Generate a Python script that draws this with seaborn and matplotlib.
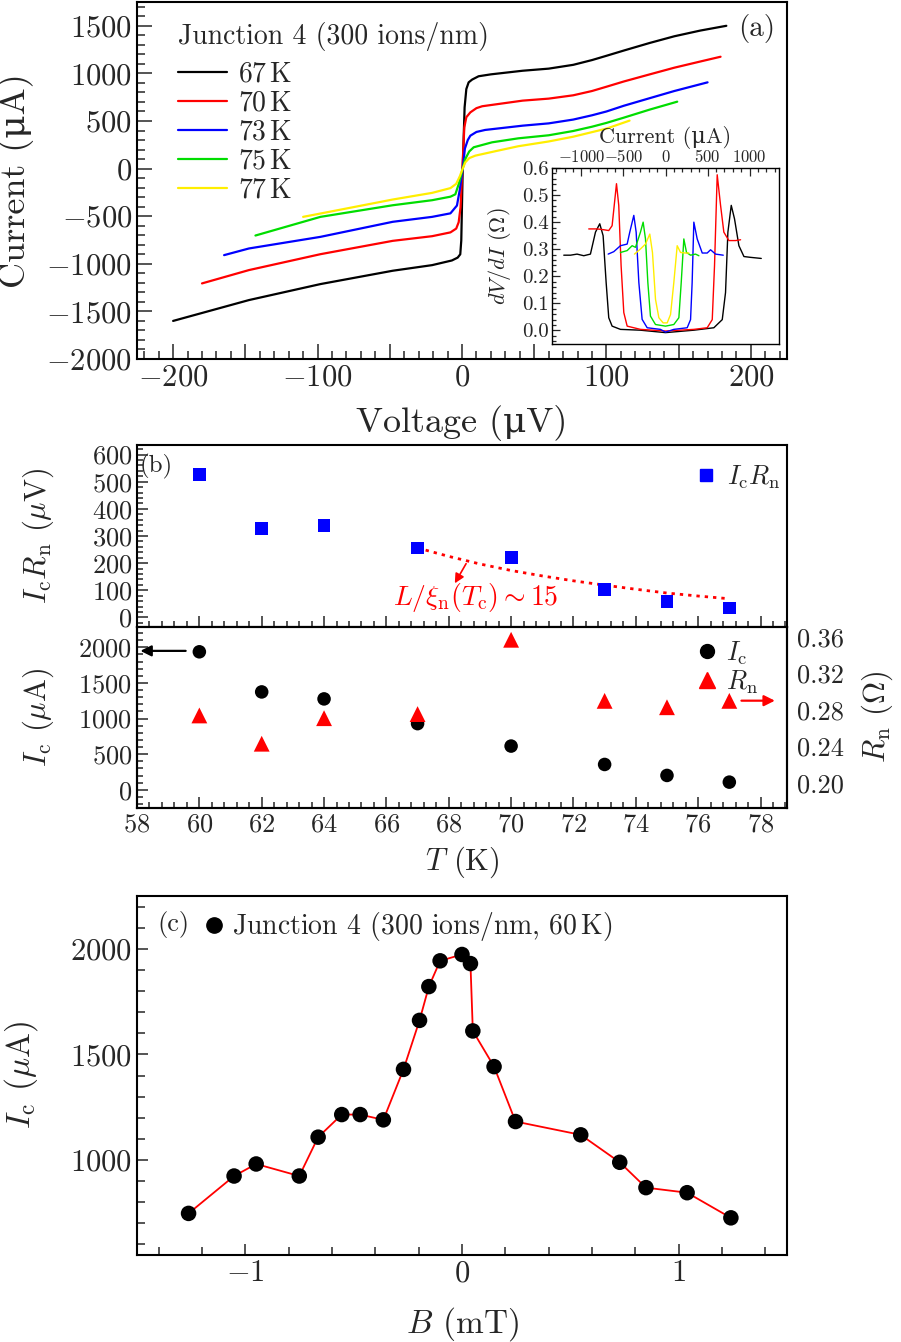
import numpy as np
import pandas as pd
import matplotlib
matplotlib.use("Agg")
import matplotlib.pyplot as plt
import seaborn as sns
from matplotlib.ticker import MultipleLocator, FuncFormatter, FormatStrFormatter
from matplotlib.lines import Line2D

# ---------------- data: panel (a) I-V curves ----------------
temps_iv = ["67 K", "70 K", "73 K", "75 K", "77 K"]
iv_colors = ["black", "red", "blue", "#00dd00", "#ffee00"]

V_67 = [-200, -147.5, -98, -48, -20.7, -7, -3, -1.2, -0.5, 0.5, 1.8, 3.0, 4.6, 7, 11.5, 20, 42, 60, 77, 90, 100, 112, 130, 147, 165, 183]
I_67 = [-1600, -1381, -1213, -1073, -1014, -965, -935, -900, -755, 0, 643, 836, 906, 935, 970, 990, 1028, 1050, 1090, 1140, 1185, 1240, 1320, 1390, 1450, 1500]
V_70 = [-180, -147.5, -98, -48, -20.7, -8, -4, -2.3, -1.0, 1.6, 3, 5.8, 10, 14, 42, 60, 77, 90, 100, 112, 130, 147, 165, 179]
I_70 = [-1206, -1066, -899, -759, -710, -670, -630, -563, -406, 433, 540, 591, 635, 655, 714, 735, 770, 815, 860, 915, 990, 1060, 1125, 1175]
V_73 = [-164.7, -147.5, -98, -48, -20.7, -8, -3.5, -1.5, 0.5, 2, 4, 5.8, 10, 16, 42, 60, 77, 90, 100, 112, 130, 147, 170]
I_73 = [-909, -839, -717, -559, -507, -470, -388, -220, 0, 210, 300, 346, 385, 406, 451, 475, 515, 560, 600, 660, 740, 815, 906]
V_75 = [-143, -98, -48, -20.7, -8, -4.6, -2, 0.5, 2.3, 5, 8.1, 20.8, 39, 60, 77, 90, 100, 112, 130, 149]
I_75 = [-703, -507, -385, -332, -295, -270, -150, 0, 102, 180, 224, 276, 318, 350, 395, 440, 480, 535, 620, 703]
V_77 = [-110, -98, -48, -20.7, -8, -4, -1.5, 0.5, 2.3, 5, 9.2, 25, 39, 60, 77, 100, 116]
I_77 = [-507, -472, -325, -255, -205, -160, -80, 0, 66, 110, 136, 189, 235, 285, 335, 420, 504]

# ---------------- data: inset dV/dI vs current ----------------
dI_67 = [-1210, -1130, -1052, -972, -893, -833, -782, -742, -706, -675, -635, -536, -298, 0, 337, 575, 675, 714, 742, 782, 821, 873, 933, 1012, 1139]
dR_67 = [0.278, 0.278, 0.282, 0.276, 0.282, 0.363, 0.394, 0.350, 0.177, 0.047, 0.016, 0.004, 0.001, -0.008, 0.001, 0.010, 0.040, 0.140, 0.363, 0.462, 0.412, 0.313, 0.273, 0.270, 0.266]
dI_70 = [-913, -813, -734, -675, -635, -583, -556, -528, -496, -456, -298, 0, 337, 496, 556, 583, 615, 655, 694, 754, 833, 893]
dR_70 = [0.375, 0.375, 0.372, 0.369, 0.387, 0.542, 0.462, 0.239, 0.066, 0.016, 0.004, -0.002, 0.004, 0.010, 0.040, 0.239, 0.575, 0.462, 0.363, 0.332, 0.332, 0.335]
dI_73 = [-682, -615, -536, -456, -425, -377, -349, -317, -278, -218, -60, 0, 99, 258, 298, 317, 337, 377, 437, 496, 536, 595, 687]
dR_73 = [0.282, 0.291, 0.313, 0.319, 0.363, 0.425, 0.363, 0.177, 0.041, 0.010, 0.004, -0.006, 0.004, 0.010, 0.040, 0.177, 0.400, 0.338, 0.286, 0.286, 0.298, 0.282, 0.278]
dI_75 = [-536, -456, -397, -357, -298, -266, -238, -210, -179, -119, 0, 99, 159, 187, 218, 250, 298, 357, 397]
dR_75 = [0.288, 0.295, 0.313, 0.307, 0.363, 0.400, 0.338, 0.177, 0.053, 0.022, 0.016, 0.022, 0.047, 0.177, 0.338, 0.288, 0.278, 0.282, 0.276]
dI_77 = [-369, -298, -238, -187, -155, -119, -79, -28, 20, 60, 99, 139, 179, 238, 278]
dR_77 = [0.282, 0.301, 0.319, 0.356, 0.288, 0.115, 0.047, 0.028, 0.028, 0.059, 0.177, 0.313, 0.288, 0.286, 0.286]

# ---------------- data: panel (b) ----------------
T_b = [60, 62, 64, 67, 70, 73, 75, 77]
IcRn = [525, 328, 339, 256, 221, 104, 59, 35]
Ic_T = [1937, 1374, 1276, 929, 614, 356, 202, 108]
Rn_T = [0.274, 0.243, 0.271, 0.2755, 0.357, 0.290, 0.283, 0.290]
fit_T = [67, 68, 69, 70, 71, 72, 73, 74, 75, 76, 77]
fit_val = [256, 225, 197, 173, 153, 135, 119, 104, 90, 79, 69]

# ---------------- data: panel (c) ----------------
B_c = [-1.262, -1.052, -0.950, -0.751, -0.664, -0.555, -0.470, -0.363, -0.270, -0.196, -0.153,
       -0.101, 0.0, 0.039, 0.050, 0.148, 0.247, 0.548, 0.728, 0.849, 1.039, 1.241]
Ic_c = [747, 924, 981, 924, 1108, 1215, 1215, 1190, 1429, 1661, 1821,
        1943, 1973, 1930, 1611, 1442, 1182, 1119, 989, 869, 845, 726]

MU = "\u03bc"

# ---------------- style ----------------
sns.set_style("ticks", {"xtick.direction": "in", "ytick.direction": "in"})
plt.rcParams["font.family"] = ["cmr10", "DejaVu Serif"]
plt.rcParams["mathtext.fontset"] = "cm"
plt.rcParams["axes.formatter.use_mathtext"] = True
plt.rcParams["axes.unicode_minus"] = True
plt.rcParams["axes.linewidth"] = 1.5
plt.rcParams["axes.edgecolor"] = "black"

W, H = 901, 1342
fig = plt.figure(figsize=(W / 100, H / 100), dpi=100)


def rect(l, t, r, b):
    return [l / W, 1 - b / H, (r - l) / W, (b - t) / H]


def style_ticks(ax, size, maj=9, mino=5, **kw):
    ax.tick_params(which="both", direction="in", width=1.1, **kw)
    ax.tick_params(which="major", length=maj, labelsize=size)
    ax.tick_params(which="minor", length=mino)


# ================= panel (a) =================
ax_a = fig.add_axes(rect(137, 2, 787, 359))
iv_frames = []
for lab, v, i in zip(temps_iv, [V_67, V_70, V_73, V_75, V_77], [I_67, I_70, I_73, I_75, I_77]):
    iv_frames.append(pd.DataFrame({"V": v, "I": i, "T": lab}))
iv = pd.concat(iv_frames, ignore_index=True)
sns.lineplot(data=iv, x="V", y="I", hue="T", palette=dict(zip(temps_iv, iv_colors)),
             estimator=None, sort=False, lw=1.6, ax=ax_a, legend=False)
ax_a.set_xlim(-225, 225)
ax_a.set_ylim(-2000, 1750)
ax_a.xaxis.set_major_locator(MultipleLocator(50))
ax_a.xaxis.set_minor_locator(MultipleLocator(10))
ax_a.xaxis.set_major_formatter(FuncFormatter(
    lambda x, p: ("$%d$" % x).replace("-", "\u2212") if abs(x) % 100 == 0 else ""))
ax_a.yaxis.set_major_locator(MultipleLocator(500))
ax_a.yaxis.set_minor_locator(MultipleLocator(100))
style_ticks(ax_a, 22, maj=11, mino=6, top=False, right=False)
ax_a.set_xlabel(f"Voltage ({MU}V)", fontsize=26)
ax_a.set_ylabel(f"Current ({MU}A)", fontsize=26)
ax_a.xaxis.set_label_coords(0.5, -0.13)
ax_a.yaxis.set_label_coords(-0.158, 0.5)
ax_a.text(0.063, 0.903, "Junction 4 (300 ions/nm)", transform=ax_a.transAxes,
          ha="left", va="center", fontsize=20)
handles = [Line2D([0], [0], color=c, lw=1.6) for c in iv_colors]
labels = [r"$%s\,\mathrm{K}$" % t.split()[0] for t in temps_iv]
ax_a.legend(handles, labels, loc="upper left", bbox_to_anchor=(0.063, 0.835), frameon=False,
            fontsize=20, handlelength=1.75, handletextpad=0.4, labelspacing=0.1,
            borderpad=0, borderaxespad=0)
ax_a.text(0.954, 0.927, "(a)", transform=ax_a.transAxes, ha="center", va="center", fontsize=21)

# ---------------- inset ----------------
ax_in = fig.add_axes(rect(552, 168, 779, 344))
ins_frames = []
for lab, x, y in zip(temps_iv, [dI_67, dI_70, dI_73, dI_75, dI_77], [dR_67, dR_70, dR_73, dR_75, dR_77]):
    ins_frames.append(pd.DataFrame({"I": x, "R": y, "T": lab}))
ins = pd.concat(ins_frames, ignore_index=True)
sns.lineplot(data=ins, x="I", y="R", hue="T", palette=dict(zip(temps_iv, iv_colors)),
             estimator=None, sort=False, lw=1.0, ax=ax_in, legend=False)
ax_in.set_xlim(-1350, 1350)
ax_in.set_ylim(-0.05, 0.6)
ax_in.xaxis.tick_top()
ax_in.xaxis.set_label_position("top")
ax_in.xaxis.set_major_locator(MultipleLocator(500))
ax_in.xaxis.set_minor_locator(MultipleLocator(100))
ax_in.yaxis.set_major_locator(MultipleLocator(0.1))
ax_in.yaxis.set_minor_locator(MultipleLocator(0.02))
ax_in.yaxis.set_major_formatter(FormatStrFormatter("%.1f"))
ax_in.tick_params(which="both", direction="in", width=0.9, top=True, bottom=False,
                  left=True, right=False, labeltop=True, labelbottom=False)
ax_in.tick_params(which="major", length=6)
ax_in.tick_params(which="minor", length=3)
ax_in.tick_params(axis="x", labelsize=12, pad=2)
ax_in.tick_params(axis="y", labelsize=15, pad=2)
for s in ax_in.spines.values():
    s.set_linewidth(1.0)
ax_in.set_xlabel(f"Current ({MU}A)", fontsize=16)
ax_in.set_ylabel(r"$dV/dI$ ($\Omega$)", fontsize=16)
ax_in.xaxis.set_label_coords(0.5, 1.14)
ax_in.yaxis.set_label_coords(-0.17, 0.5)

# ================= panel (b) =================
ax_b1 = fig.add_axes(rect(137, 445, 787, 627))
ax_b2 = fig.add_axes(rect(137, 627, 787, 808), sharex=ax_b1)

sns.lineplot(x=fit_T, y=fit_val, color="red", lw=2.0, ax=ax_b1, linestyle=(0, (1.2, 1.8)))
sns.scatterplot(x=T_b, y=IcRn, marker="s", color="blue", s=85, edgecolor="none", ax=ax_b1, zorder=3)
ax_b1.set_xlim(58, 78.85)
ax_b1.set_ylim(-35, 635)
ax_b1.yaxis.set_major_locator(MultipleLocator(100))
ax_b1.yaxis.set_minor_locator(MultipleLocator(20))
ax_b1.xaxis.set_major_locator(MultipleLocator(2))
ax_b1.xaxis.set_minor_locator(MultipleLocator(0.4))
style_ticks(ax_b1, 19, maj=8, mino=4, top=False, right=False, labelbottom=False)
ax_b1.set_ylabel(r"$I_{\rm c}R_{\rm n}$ ($\mu$V)", fontsize=22)
ax_b1.yaxis.set_label_coords(-0.125, 0.5)
ax_b1.set_xlabel("")
ax_b1.text(0.004, 0.88, "(b)", transform=ax_b1.transAxes, ha="left", va="center", fontsize=18)
ax_b1.legend([Line2D([0], [0], marker="s", color="blue", ls="none", markersize=9)],
             [r"$I_{\rm c}R_{\rm n}$"], loc="upper right", bbox_to_anchor=(0.99, 0.9),
             frameon=False, fontsize=19, handlelength=0.8, handletextpad=0.4,
             borderpad=0, borderaxespad=0)
ax_b1.annotate("", xy=(68.15, 117), xytext=(68.6, 207),
               arrowprops=dict(arrowstyle="-|>", color="red", lw=1.2, mutation_scale=14))
ax_b1.text(68.85, 72, r"$L/\xi_{\rm n}(T_{\rm c})\sim 15$", color="red", fontsize=20,
           ha="center", va="center")

sns.scatterplot(x=T_b, y=Ic_T, marker="o", color="black", s=95, edgecolor="none", ax=ax_b2, zorder=3)
ax_b2.set_ylim(-255, 2285)
ax_b2.yaxis.set_major_locator(MultipleLocator(500))
ax_b2.yaxis.set_minor_locator(MultipleLocator(100))
style_ticks(ax_b2, 19, maj=8, mino=4, top=False, right=False)
ax_b2.set_xlabel(r"$T$ (K)", fontsize=22)
ax_b2.set_ylabel(r"$I_{\rm c}$ ($\mu$A)", fontsize=22)
ax_b2.xaxis.set_label_coords(0.5, -0.2)
ax_b2.yaxis.set_label_coords(-0.125, 0.5)
ax_b2.annotate("", xy=(58.02, 1950), xytext=(59.65, 1950),
               arrowprops=dict(arrowstyle="-|>", color="black", lw=1.6, mutation_scale=16))

ax_r = ax_b2.twinx()
sns.scatterplot(x=T_b, y=Rn_T, marker="^", color="red", s=130, edgecolor="none", ax=ax_r, zorder=3)
ax_r.set_ylim(0.1725, 0.371)
ax_r.yaxis.set_major_locator(MultipleLocator(0.04))
ax_r.yaxis.set_major_formatter(FormatStrFormatter("%.2f"))
ax_r.tick_params(axis="y", which="both", length=0, labelsize=19, pad=7)
ax_r.set_ylabel(r"$R_{\rm n}$ ($\Omega$)", fontsize=22)
ax_r.yaxis.set_label_coords(1.112, 0.5)
ax_r.annotate("", xy=(78.55, 0.2902), xytext=(77.3, 0.2902),
              arrowprops=dict(arrowstyle="-|>", color="red", lw=1.6, mutation_scale=16))
ax_r.legend([Line2D([0], [0], marker="o", color="black", ls="none", markersize=10),
             Line2D([0], [0], marker="^", color="red", ls="none", markersize=11)],
            [r"$I_{\rm c}$", r"$R_{\rm n}$"], loc="upper right", bbox_to_anchor=(0.955, 0.93),
            frameon=False, fontsize=19, handlelength=0.8, handletextpad=0.3, labelspacing=0.05,
            borderpad=0, borderaxespad=0)

# ================= panel (c) =================
ax_c = fig.add_axes(rect(137, 896, 787, 1255))
sns.lineplot(x=B_c, y=Ic_c, color="red", lw=1.3, ax=ax_c, sort=False, estimator=None)
sns.scatterplot(x=B_c, y=Ic_c, marker="o", color="black", s=125, edgecolor="none", ax=ax_c, zorder=3)
ax_c.set_xlim(-1.5, 1.5)
ax_c.set_ylim(550, 2250)
ax_c.xaxis.set_major_locator(MultipleLocator(1))
ax_c.xaxis.set_minor_locator(MultipleLocator(0.2))
ax_c.yaxis.set_major_locator(MultipleLocator(500))
ax_c.yaxis.set_minor_locator(MultipleLocator(100))
style_ticks(ax_c, 22, maj=8, mino=6, top=False, right=False)
ax_c.set_xlabel(r"$B$ (mT)", fontsize=24)
ax_c.set_ylabel(r"$I_{\rm c}$ ($\mu$A)", fontsize=24)
ax_c.xaxis.set_label_coords(0.5, -0.14)
ax_c.yaxis.set_label_coords(-0.15, 0.5)
ax_c.text(0.031, 0.92, "(c)", transform=ax_c.transAxes, ha="left", va="center", fontsize=19)
ax_c.legend([Line2D([0], [0], marker="o", color="black", ls="none", markersize=11)],
            [r"Junction 4 (300 ions/nm, 60$\,$K)"], loc="upper left", bbox_to_anchor=(0.105, 0.96),
            frameon=False, fontsize=20, handlelength=0.6, handletextpad=0.35,
            borderpad=0, borderaxespad=0)

fig.savefig("out.png", dpi=100)
